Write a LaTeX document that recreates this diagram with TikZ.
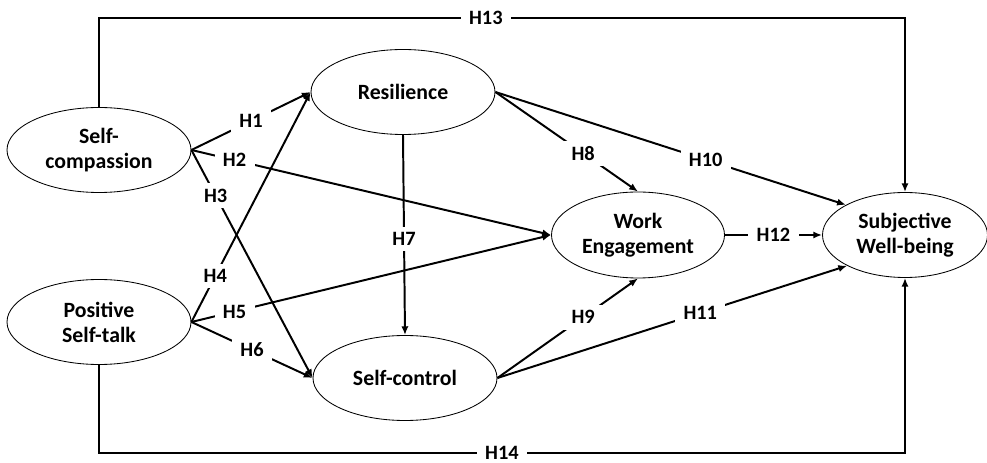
\documentclass[tikz,border=0pt]{standalone}
\usepackage{fontspec}
\setmainfont{Carlito}
\usetikzlibrary{shapes, arrows.meta, calc}

\begin{document}
\begin{tikzpicture}[
      every node/.style={font=\bfseries\fontsize{15.5}{17.8}\selectfont},
      construct/.style={ellipse, draw, line width=0.6pt, inner sep=0pt, align=center, minimum width=4.6cm, minimum height=2.125cm},
      link/.style={line width=1.4pt},
      effect/.style={link, -{Latex[length=2.2mm, width=1.8mm]}},
      hyp/.style={fill=white, inner xsep=6pt, inner ysep=4pt, font=\bfseries\fontsize{14.5}{16}\selectfont}
    ]
    \useasboundingbox (0,0) rectangle (24.675,11.575);
    % Constructs
    \node[construct] (sc) at (2.475,7.825) {Self-\\compassion};
    \node[construct] (pst) at (2.475,3.525) {Positive\\Self-talk};
    \node[construct] (res) at (10.075,9.275) {Resilience};
    \node[construct] (sctl) at (10.125,2.125) {Self-control};
    \node[construct, minimum width=4.325cm, minimum height=2.15cm] (we) at (15.95,5.7) {Work\\Engagement};
    \node[construct, minimum width=4.125cm] (swb) at (22.625,5.7) {Subjective\\Well-being};
    \coordinate (top) at (0,11.125);
    \coordinate (bottom) at (0,0.26);

    % Left block: H1 to H6
    \draw[effect] (sc.east) -- node[hyp, pos=0.5] {H1} (res.west);
    \draw[effect] (sc.east) -- node[hyp, pos=0.12] {H2} (we.west);
    \draw[effect] (sc.east) -- node[hyp, pos=0.2] {H3} (sctl.west);
    \draw[effect] (pst.east) -- node[hyp, pos=0.2] {H4} (res.west);
    \draw[effect] (pst.east) -- node[hyp, pos=0.12] {H5} (we.west);
    \draw[effect] (pst.east) -- node[hyp, pos=0.5] {H6} (sctl.west);

    % Middle block: H7 to H12
    \draw[effect] (res.south) -- node[hyp, pos=0.52] {H7} (sctl.north);
    \draw[effect] (res.east) -- node[hyp, pos=0.615] {H8} (we.north);
    \draw[effect] (sctl.east) -- node[hyp, pos=0.61] {H9} (we.south);
    \draw[effect] (res.east) -- node[hyp, pos=0.6] {H10} (swb.153);
    \draw[effect] (sctl.east) -- node[hyp, pos=0.58] {H11} (swb.208);
    \draw[effect] (we.east) -- node[hyp, pos=0.5] {H12} (swb.west);

    % Outer frame: H13 and H14
    \draw[effect] (sc.north) -- (sc.north |- top) -| node[hyp, pos=0.24] {H13} (swb.north);
    \draw[effect] (pst.south) -- (pst.south |- bottom) -| node[hyp, pos=0.25, inner ysep=1pt] {H14} (swb.south);
\end{tikzpicture}
\end{document}
